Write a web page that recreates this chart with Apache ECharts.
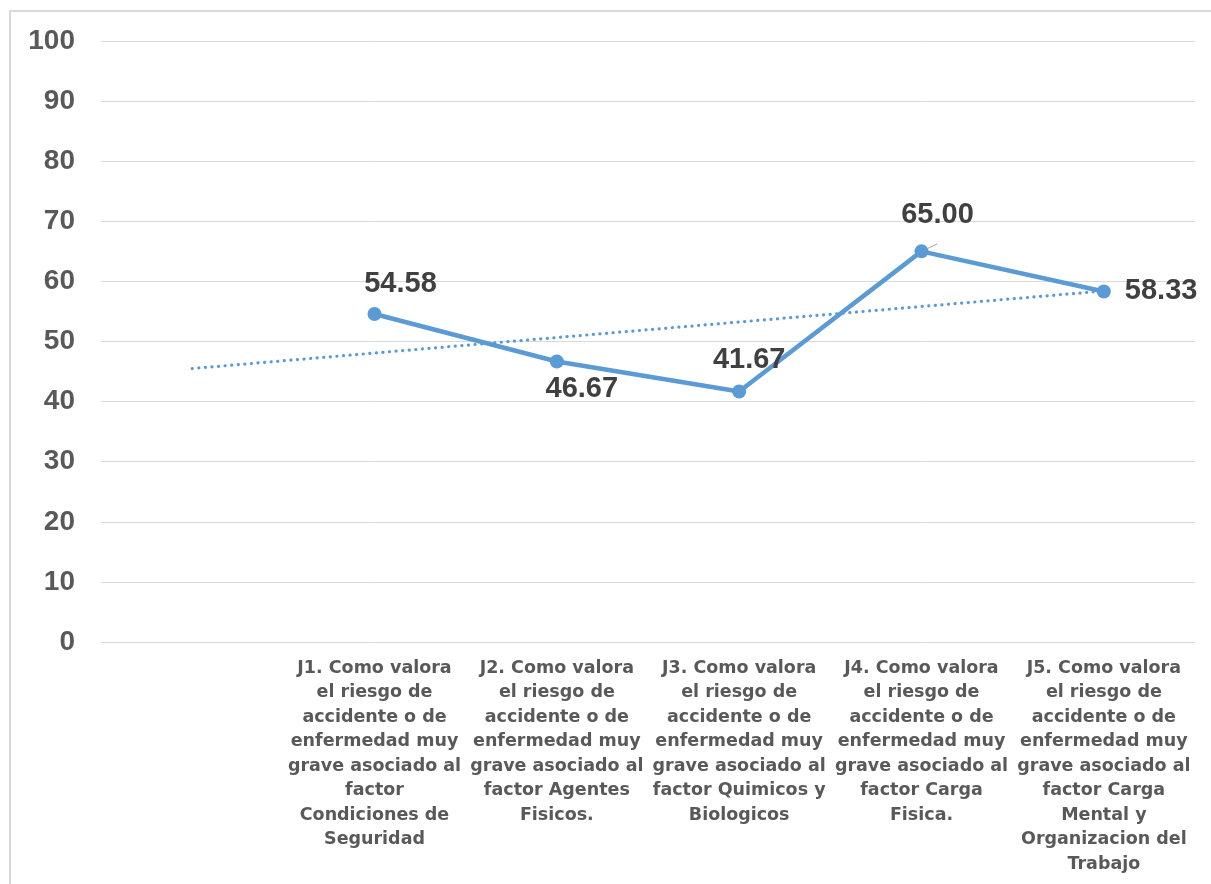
<!DOCTYPE html>
<html>
<head>
<meta charset="utf-8">
<script src="https://cdn.jsdelivr.net/npm/echarts@6/dist/echarts.min.js"></script>
<style>
  html, body { margin: 0; padding: 0; background: #fff; }
  #chart { width: 1211px; height: 884px; }
</style>
</head>
<body>
<div id="chart"></div>
<script>
// first category is empty (the trendline starts there)
var categories = [
  '',
  'J1. Como valora\nel riesgo de\naccidente o de\nenfermedad muy\ngrave asociado al\nfactor\nCondiciones de\nSeguridad',
  'J2. Como valora\nel riesgo de\naccidente o de\nenfermedad muy\ngrave asociado al\nfactor Agentes\nFisicos.',
  'J3. Como valora\nel riesgo de\naccidente o de\nenfermedad muy\ngrave asociado al\nfactor Quimicos y\nBiologicos',
  'J4. Como valora\nel riesgo de\naccidente o de\nenfermedad muy\ngrave asociado al\nfactor Carga\nFisica.',
  'J5. Como valora\nel riesgo de\naccidente o de\nenfermedad muy\ngrave asociado al\nfactor Carga\nMental y\nOrganizacion del\nTrabajo'
]
var values = [null, 54.58, 46.67, 41.67, 65.00, 58.33]
// linear trendline: start and end points
var trend = [45.5, null, null, null, null, 58.4]
var yTicks = [0, 100, 10]

var blue = '#5B9BD5'
var labelFont = { fontFamily: 'Liberation Sans', fontWeight: 'bold', fontSize: 29, color: '#404040' }

// label placement for each point (position, offset)
var labelPlace = [
  null,
  { position: 'top', offset: [26, -3] },
  { position: 'bottom', offset: [25, 1] },
  { position: 'top', offset: [10, -5] },
  { position: 'top', offset: [16, -10] },
  { position: 'right', offset: [9, 0] }
]

var mainData = values.map(function (v, i) {
  if (v === null) return null
  return {
    value: v,
    label: Object.assign({ show: true, formatter: function (p) { return p.value.toFixed(2) } }, labelFont, labelPlace[i]),
    labelLine: i === 4 ? { show: true, lineStyle: { color: '#a6a6a6', width: 1 } } : undefined
  }
})

var chart = echarts.init(document.getElementById('chart'))
chart.setOption({
  animation: false,
  backgroundColor: '#fff',
  grid: { left: 101, right: 16, top: 41, bottom: 242, containLabel: false },
  graphic: [{
    type: 'rect',
    shape: { x: 10, y: 11, width: 1240, height: 900 },
    style: { fill: 'none', stroke: '#d9d9d9', lineWidth: 2 },
    silent: true
  }],
  xAxis: {
    type: 'category',
    data: categories,
    boundaryGap: true,
    axisLine: { show: false },
    axisTick: { show: false },
    axisLabel: {
      interval: 0,
      margin: 14,
      fontFamily: 'DejaVu Sans',
      fontWeight: 'bold',
      fontSize: 17.5,
      lineHeight: 24.5,
      color: '#595959',
      align: 'center'
    }
  },
  yAxis: {
    type: 'value',
    min: yTicks[0],
    max: yTicks[1],
    interval: yTicks[2],
    axisLine: { show: false },
    axisTick: { show: false },
    splitLine: { lineStyle: { color: '#d9d9d9', width: 1 } },
    axisLabel: {
      margin: 26,
      fontFamily: 'Liberation Sans',
      fontWeight: 'bold',
      fontSize: 28,
      color: '#595959'
    }
  },
  series: [
    {
      type: 'line',
      data: trend,
      connectNulls: true,
      symbol: 'none',
      lineStyle: { color: blue, width: 3.2, type: [0.1, 6.5], cap: 'round' },
      z: 1
    },
    {
      type: 'line',
      data: mainData,
      symbol: 'circle',
      symbolSize: 14,
      itemStyle: { color: blue },
      lineStyle: { color: blue, width: 4.5 },
      z: 2
    }
  ]
})
</script>
</body>
</html>
